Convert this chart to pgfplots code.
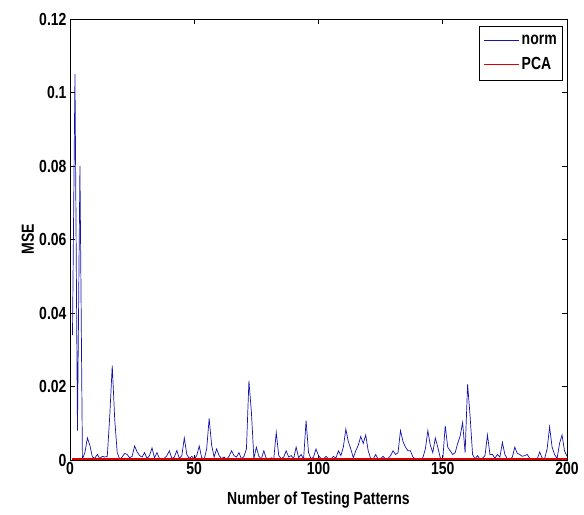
\documentclass[border=0pt]{standalone}
\usepackage{pgfplots}
\pgfplotsset{compat=1.18}
\usepackage{fontspec}
\setmainfont{Liberation Sans}[FakeStretch=0.8]
\newcommand{\lblfont}{\fontsize{17.5}{20}\selectfont\bfseries}
\definecolor{normblue}{RGB}{20,20,170}
\definecolor{pcared}{RGB}{220,0,0}
\begin{document}
\begin{tikzpicture}
\begin{axis}[
  scale only axis,
  width=497pt, height=441pt,
  xmin=0, xmax=200, ymin=0, ymax=0.12,
  xtick={0,50,100,150,200},
  ytick={0,0.02,0.04,0.06,0.08,0.1,0.12},
  scaled y ticks=false,
  /pgf/number format/assume math mode=true,
  /pgf/number format/fixed,
  /pgf/number format/precision=2,
  tick align=inside,
  major tick length=5pt,
  tick style={black, line width=0.6pt},
  axis line style={black, line width=0.6pt},
  tick label style={font=\lblfont},
  xticklabel style={yshift=1pt},
  xlabel={Number of Testing Patterns},
  ylabel={MSE},
  every axis x label/.style={at={(axis description cs:0.5,-0.09)}, anchor=center, font=\lblfont},
  every axis y label/.style={at={(axis description cs:-0.085,0.5)}, rotate=90, anchor=center, font=\lblfont},
  legend style={at={(1,1)}, anchor=north east, xshift=-4pt, yshift=-7pt,
    font=\lblfont, draw, line width=0.6pt, row sep=7pt,
    inner xsep=4pt, inner ysep=7pt},
  legend cell align=left,
]
% norm
\addplot[normblue, line width=0.7pt,
  legend image code/.code={\draw[normblue, line width=1pt] (0pt,0pt) -- (35pt,0pt);}] coordinates {
(1,0.034) (2,0.105) (3,0.008) (4,0.080) (5,0.0003) (6,0.002) (7,0.006) (8,0.004) (9,0.0008) (10,0.0005)
(11,0.0015) (12,0.0004) (13,0.001) (14,0.0008) (15,0.001) (16,0.012) (17,0.0257) (18,0.011) (19,0.002) (20,0.0002)
(21,0.0008) (22,0.0018) (23,0.0015) (24,0.0006) (25,0.001) (26,0.0038) (27,0.0022) (28,0.0012) (29,0.0008) (30,0.002)
(31,0.0004) (32,0.0012) (33,0.0033) (34,0.0006) (35,0.002) (36,0.0004) (37,0.0002) (38,0.0005) (39,0.0012) (40,0.0025)
(41,0.0004) (42,0.0008) (43,0.0026) (44,0.0004) (45,0.0012) (46,0.006) (47,0.0015) (48,0.0004) (49,0.001) (50,0.0003)
(51,0.0012) (52,0.0038) (53,0.0006) (54,0.0002) (55,0.003) (56,0.0113) (57,0.004) (58,0.0008) (59,0.003) (60,0.0012)
(61,0.0004) (62,0.0008) (63,0.0002) (64,0.001) (65,0.0025) (66,0.0012) (67,0.0008) (68,0.002) (69,0.0003) (70,0.001)
(71,0.003) (72,0.0215) (73,0.013) (74,0.0004) (75,0.0035) (76,0.001) (77,0.0003) (78,0.0025) (79,0.0004) (80,0.0002)
(81,0.0006) (82,0.0003) (83,0.0075) (84,0.0012) (85,0.0004) (86,0.0008) (87,0.0025) (88,0.0008) (89,0.0012) (90,0.0004)
(91,0.0035) (92,0.0006) (93,0.0015) (94,0.0002) (95,0.0107) (96,0.002) (97,0.0003) (98,0.0008) (99,0.003) (100,0.0012)
(101,0.0004) (102,0.0002) (103,0.001) (104,0.0003) (105,0.0002) (106,0.001) (107,0.0005) (108,0.0025) (109,0.0012) (110,0.0035)
(111,0.0084) (112,0.005) (113,0.003) (114,0.0006) (115,0.0025) (116,0.004) (117,0.0064) (118,0.0045) (119,0.0068) (120,0.0025)
(121,0.0004) (122,0.0002) (123,0.0015) (124,0.0002) (125,0.0003) (126,0.001) (127,0.0002) (128,0.0004) (129,0.0012) (130,0.0025)
(131,0.0015) (132,0.002) (133,0.008) (134,0.005) (135,0.0035) (136,0.0025) (137,0.0025) (138,0.0008) (139,0.0003) (140,0.0004)
(141,0.0002) (142,0.0006) (143,0.003) (144,0.008) (145,0.004) (146,0.002) (147,0.006) (148,0.0035) (149,0.0006) (150,0.0002)
(151,0.0093) (152,0.0035) (153,0.0025) (154,0.0015) (155,0.002) (156,0.0045) (157,0.0065) (158,0.0102) (159,0.002) (160,0.0206)
(161,0.012) (162,0.0015) (163,0.0003) (164,0.0012) (165,0.0002) (166,0.0005) (167,0.0012) (168,0.0068) (169,0.0015) (170,0.0015)
(171,0.0005) (172,0.0015) (173,0.0008) (174,0.0048) (175,0.0015) (176,0.0003) (177,0.0002) (178,0.0008) (179,0.0035) (180,0.0018)
(181,0.0015) (182,0.001) (183,0.0012) (184,0.0015) (185,0.0004) (186,0.0002) (187,0.0003) (188,0.0002) (189,0.0022) (190,0.0005)
(191,0.0004) (192,0.003) (193,0.009) (194,0.0035) (195,0.0015) (196,0.0004) (197,0.0045) (198,0.0068) (199,0.0025) (200,0.001)
};
\addlegendentry{norm}
% PCA
\addplot[pcared, line width=1.4pt,
  legend image code/.code={\draw[pcared, line width=1pt] (0pt,0pt) -- (35pt,0pt);}] coordinates {
(1,0.0003) (20,0.0003) (40,0.0003) (60,0.0003) (80,0.0003) (100,0.0003)
(120,0.0003) (140,0.0003) (160,0.0003) (180,0.0003) (200,0.0003)
};
\addlegendentry{PCA}
\end{axis}
\path ([shift={(-70pt,-55pt)}]current axis.south west) rectangle ([shift={(17pt,19pt)}]current axis.north east);
\end{tikzpicture}
\end{document}
